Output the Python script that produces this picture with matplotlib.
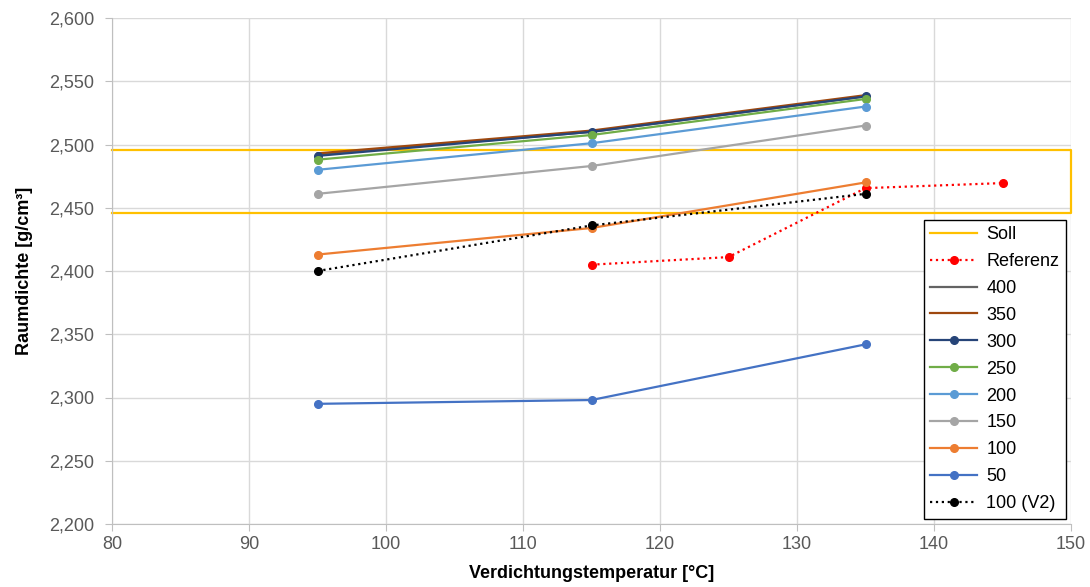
import numpy as np
import matplotlib
matplotlib.use('Agg')
import matplotlib.pyplot as plt
from matplotlib.ticker import FuncFormatter, MultipleLocator

plt.rcParams['font.family'] = ['Liberation Sans', 'DejaVu Sans']

# Data
temps = [95, 115, 135]
soll_x = [80, 150, 150, 80]
soll_y = [2.446, 2.446, 2.496, 2.496]
ref_x = [115, 125, 135, 145]
ref_y = [2.405, 2.411, 2.4655, 2.4695]
d400 = [2.492, 2.510, 2.538]
d350 = [2.493, 2.511, 2.539]
d300 = [2.491, 2.510, 2.538]
d250 = [2.488, 2.5075, 2.536]
d200 = [2.480, 2.501, 2.530]
d150 = [2.461, 2.483, 2.515]
d100 = [2.413, 2.434, 2.470]
d50 = [2.295, 2.298, 2.342]
v2_y = [2.400, 2.436, 2.461]

fig = plt.figure(figsize=(10.9, 5.87), dpi=100)
ax = fig.add_axes([112 / 1090, 1 - 524 / 587, (1071 - 112) / 1090, (524 - 18) / 587])

lw = 1.6
ms = 5.5
ax.plot(soll_x, soll_y, color='#FFC000', lw=lw, label='Soll', clip_on=False, zorder=2)
ax.plot(ref_x, ref_y, color='#FF0000', lw=lw, ls=':', marker='o', ms=ms, label='Referenz', zorder=3)
ax.plot(temps, d400, color='#636363', lw=lw, label='400', zorder=3)
ax.plot(temps, d350, color='#9E480E', lw=lw, label='350', zorder=3)
ax.plot(temps, d300, color='#264478', lw=lw, marker='o', ms=ms, label='300', zorder=3)
ax.plot(temps, d250, color='#70AD47', lw=lw, marker='o', ms=ms, label='250', zorder=3)
ax.plot(temps, d200, color='#5B9BD5', lw=lw, marker='o', ms=ms, label='200', zorder=3)
ax.plot(temps, d150, color='#A5A5A5', lw=lw, marker='o', ms=ms, label='150', zorder=3)
ax.plot(temps, d100, color='#ED7D31', lw=lw, marker='o', ms=ms, label='100', zorder=3)
ax.plot(temps, d50, color='#4472C4', lw=lw, marker='o', ms=ms, label='50', zorder=3)
ax.plot(temps, v2_y, color='black', lw=lw, ls=':', marker='o', ms=ms, label='100 (V2)', zorder=4)

ax.set_xlim(80, 150)
ax.set_ylim(2.2, 2.6)
ax.xaxis.set_major_locator(MultipleLocator(10))
ax.yaxis.set_major_locator(MultipleLocator(0.05))
ax.yaxis.set_major_formatter(FuncFormatter(lambda v, p: f'{v:.3f}'.replace('.', ',')))

ax.grid(True, color='#D9D9D9', lw=1)
ax.set_axisbelow(True)
for s in ['top', 'right']:
    ax.spines[s].set_visible(False)
for s in ['left', 'bottom']:
    ax.spines[s].set_color('#BFBFBF')
ax.tick_params(axis='both', colors='#BFBFBF', labelcolor='#595959', labelsize=13, length=5)
ax.tick_params(axis='y', pad=8)

ax.set_xlabel('Verdichtungstemperatur [°C]', fontsize=13, fontweight='bold', labelpad=9)
ax.set_ylabel('Raumdichte [g/cm³]', fontsize=13, fontweight='bold', labelpad=11)

leg = ax.legend(loc='lower right', bbox_to_anchor=(1.0, 0.0), fontsize=13, frameon=True,
                fancybox=False, edgecolor='black', framealpha=1, handlelength=2.6,
                borderpad=0.35, labelspacing=0.55, borderaxespad=0.3, handletextpad=0.5)
leg.get_frame().set_linewidth(1)

fig.savefig('out.png', dpi=100)
